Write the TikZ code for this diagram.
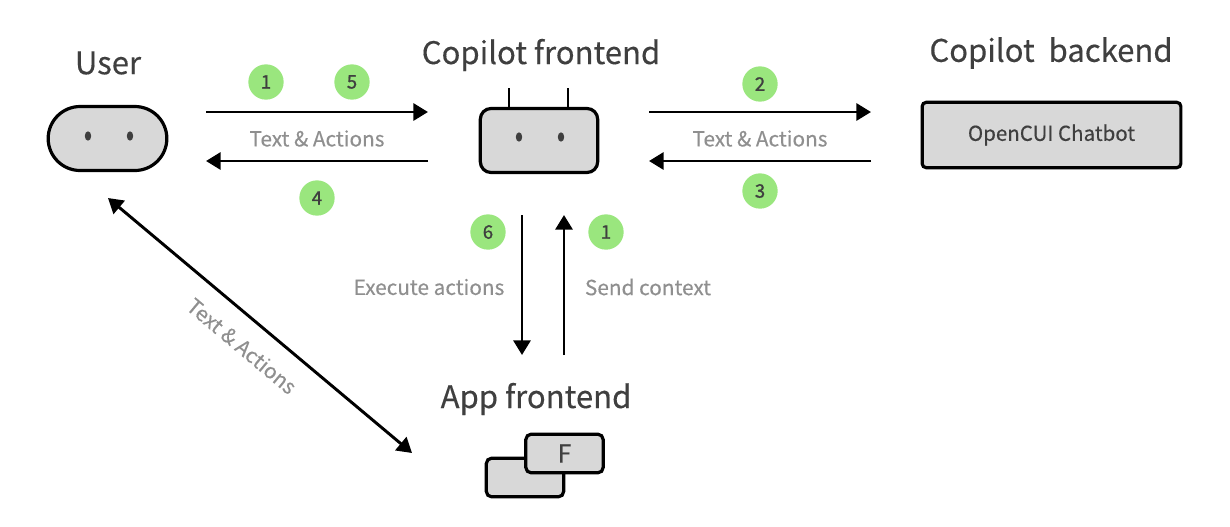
\documentclass[tikz,border=0pt]{standalone}
\usepackage{fontspec}
\setmainfont{Noto Sans CJK SC}[RawFeature={embolden=0.35}]
\newfontfamily\badgefont{Noto Sans CJK SC}[RawFeature={embolden=1.1}]
\usetikzlibrary{arrows.meta,shapes.geometric}
\definecolor{shapefill}{HTML}{D8D8D8}
\definecolor{badgegreen}{HTML}{9AE67E}
\definecolor{titlegray}{HTML}{3F3F3F}
\definecolor{labelgray}{HTML}{8F8F8F}

\begin{document}
\begin{tikzpicture}[
      x=0.75pt, y=-0.75pt,
      every node/.style={inner sep=0pt, outer sep=0pt},
      title/.style={text=titlegray, font=\fontsize{23.3}{26}\selectfont},
      flowlabel/.style={text=labelgray, font=\fontsize{15.6}{18}\selectfont},
      badge/.style={circle, fill=badgegreen, minimum size=26.5pt, text=titlegray, font=\badgefont\fontsize{14}{16}\selectfont},
      robot/.style={draw=black, fill=shapefill, line width=2.4pt, rounded corners=8pt, text=titlegray},
      eye/.style={ellipse, fill=titlegray, minimum width=4.8pt, minimum height=7pt},
      flow/.style={draw=black, line width=2.2pt, -{Triangle[length=11pt,width=12.8pt]}},
      bothflow/.style={draw=black, line width=2.2pt, {Triangle[length=11pt,width=12.8pt]}-{Triangle[length=11pt,width=12.8pt]}}
    ]
      \useasboundingbox (0,0) rectangle (1230,526);

      % titles
      \node[title] (usertitle) at (108,63) {User};
      \node[title] (fronttitle) at (541,55) {Copilot frontend};
      \node[title] (backtitle) at (1051,53) {Copilot\ \ backend};
      \node[title] (apptitle) at (536,399) {App frontend};

      % user
      \node[robot, rounded corners=24pt, minimum width=89pt, minimum height=48pt] (user) at (107.5,138.5) {};
      \node[eye] (usereyea) at (88,136) {};
      \node[eye] (usereyeb) at (130,136) {};

      % copilot frontend
      \draw[draw=black, line width=2pt] (509,88) -- (509,108);
      \draw[draw=black, line width=2pt] (568,88) -- (568,108);
      \node[robot, minimum width=88pt, minimum height=48pt] (front) at (539,140.5) {};
      \node[eye] (fronteyea) at (519,137) {};
      \node[eye] (fronteyeb) at (561,137) {};

      % copilot backend
      \node[robot, rounded corners=3pt, minimum width=194pt, minimum height=49pt, font=\fontsize{15.4}{18}\selectfont] (back) at (1051.5,135) {OpenCUI Chatbot};

      % app frontend
      \node[robot, rounded corners=4pt, minimum width=58pt, minimum height=29pt] (appback) at (525,477.5) {};
      \node[robot, rounded corners=4pt, minimum width=58pt, minimum height=29pt, font=\fontsize{18.5}{22}\selectfont] (appfront) at (564.5,453.5) {F};

      % free arrow ends
      \coordinate (ua) at (206,112);
      \coordinate (ub) at (428,112);
      \coordinate (uc) at (428,161);
      \coordinate (ud) at (206,161);
      \coordinate (ba) at (649,112);
      \coordinate (bb) at (871,112);
      \coordinate (bc) at (871,161);
      \coordinate (bd) at (649,161);
      \coordinate (da) at (522,215);
      \coordinate (db) at (522,355);
      \coordinate (dc) at (564,355);
      \coordinate (dd) at (564,215);
      \coordinate (ga) at (108,198);
      \coordinate (gb) at (412,453);

      \draw[flow] (ua) -- (ub);
      \draw[flow] (uc) -- (ud);
      \draw[flow] (ba) -- (bb);
      \draw[flow] (bc) -- (bd);
      \draw[flow] (da) -- (db);
      \draw[flow] (dc) -- (dd);
      \draw[bothflow] (ga) -- (gb);

      % labels
      \node[flowlabel] (uflow) at (317,138.5) {Text \& Actions};
      \node[flowlabel] (bflow) at (760,138.5) {Text \& Actions};
      \node[flowlabel] (execflow) at (429,287) {Execute actions};
      \node[flowlabel] (ctxflow) at (648,287) {Send context};
      \node[flowlabel, rotate=-40] (gflow) at (242,346) {Text \& Actions};

      % badges
      \node[badge] (stepa) at (266,82) {1};
      \node[badge] (stepe) at (352,82) {5};
      \node[badge] (stepd) at (317,198) {4};
      \node[badge] (stepb) at (760,84) {2};
      \node[badge] (stepc) at (760,191) {3};
      \node[badge] (stepf) at (488,232) {6};
      \node[badge] (stepg) at (606,232) {1};
    \end{tikzpicture}
\end{document}
